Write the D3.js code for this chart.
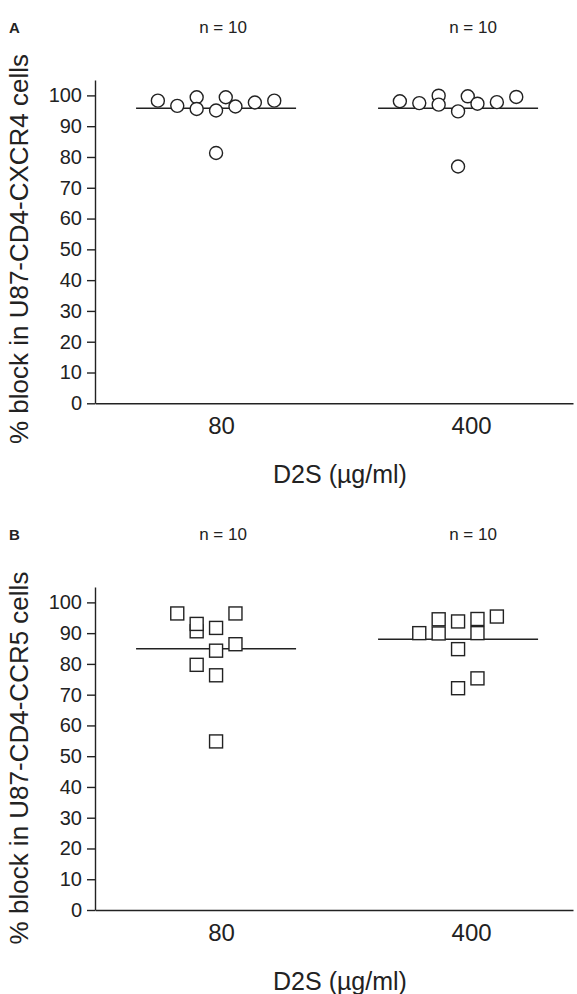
<!DOCTYPE html>
<html lang="en">
<head>
	<meta charset="utf-8">
	<title>D2S block</title>
	<script src="https://d3js.org/d3.v7.min.js" charset="utf-8"></script>
	<style>
		body {
			margin: 0;
			background: #fff;
			font-family: "Liberation Sans", Arial, sans-serif;
		}
		.axis path,
		.axis line {
			fill: none;
			stroke: #222;
			stroke-width: 1.4px;
		}
		.axis text {
			fill: #222;
		}
		.mean {
			stroke: #222;
			stroke-width: 1.5px;
		}
		.dot {
			fill: #fff;
			stroke: #222;
			stroke-width: 1.4px;
		}
	</style>
</head>
<body>
<script>

	// doses on the x axis, and y tick values
	var doses = ["80", "400"];
	var yTicks = [0, 10, 20, 30, 40, 50, 60, 70, 80, 90, 100];
	var nLabels = ["n = 10", "n = 10"];

	// panel A : % block in U87-CD4-CXCR4 cells (circles)
	var cxcr4_80 = [98.3, 96.6, 99.4, 95.6, 95.1, 99.4, 96.4, 97.7, 98.3, 81.3];
	var cxcr4_400 = [98.1, 97.5, 99.9, 97.0, 94.8, 99.7, 97.3, 97.8, 99.5, 76.9];
	// jitter column of each point (same order as values)
	var cxcr4_80_col = [-3, -2, -1, -1, 0, 0.5, 1, 2, 3, 0];
	var cxcr4_400_col = [-3, -2, -1, -1, 0, 0.5, 1, 2, 3, 0];

	// panel B : % block in U87-CD4-CCR5 cells (squares)
	var ccr5_80 = [96.4, 90.6, 93.0, 91.7, 96.4, 84.3, 86.4, 79.7, 76.3, 54.8];
	var ccr5_400 = [90.0, 94.5, 89.9, 93.8, 84.8, 94.6, 90.0, 95.4, 72.1, 75.3];
	var ccr5_80_col = [-2, -1, -1, 0, 1, 0, 1, -1, 0, 0];
	var ccr5_400_col = [-2, -1, -1, 0, 0, 1, 1, 2, 0, 1];

	var width = 577;
	var height = 994;

	var svg = d3.select("body")
		.append("svg")
		.attr("width", width)
		.attr("height", height);

	// shared x scale (both panels use the same columns)
	var x = d3.scalePoint()
		.domain(doses)
		.range([95, 573])
		.padding(0.4876)
		.align(0.513);

	// one jitter column = ~19.4px
	var jitter = d3.scaleLinear().domain([0, 1]).range([0, 19.4]);

	// the labels sit a bit right of the data columns in the original figure
	var labelShift = {"80": 5, "400": 13};

	var panels = [
		{ letter: "A", top: 80, zero: 403.3, shape: "circle",
		  title: "% block in U87-CD4-CXCR4 cells", titleY: 249,
		  groups: [[cxcr4_80, cxcr4_80_col], [cxcr4_400, cxcr4_400_col]] },
		{ letter: "B", top: 587, zero: 910, shape: "square",
		  title: "% block in U87-CD4-CCR5 cells", titleY: 758,
		  groups: [[ccr5_80, ccr5_80_col], [ccr5_400, ccr5_400_col]] }
	];

	panels.forEach(function(p) {

		var g = svg.append("g");

		var y = d3.scaleLinear()
			.domain([0, 105])
			.range([p.zero, p.top]);

		// y axis
		g.append("g")
			.attr("class", "axis")
			.attr("transform", "translate(95,0)")
			.call(d3.axisLeft(y).tickValues(yTicks).tickSize(8).tickSizeOuter(0).tickPadding(5))
			.selectAll("text")
			.style("font-size", "20px")
			.style("font-family", "Liberation Sans, Arial, sans-serif");

		// x axis : just the base line and the dose labels
		var xa = g.append("g")
			.attr("class", "axis")
			.attr("transform", "translate(0," + p.zero + ")")
			.call(d3.axisBottom(x).tickSize(0).tickSizeOuter(0).tickPadding(14));
		xa.selectAll("text")
			.attr("dx", function(d) { return labelShift[d]; })
			.style("font-size", "24px")
			.style("font-family", "Liberation Sans, Arial, sans-serif");

		// x title
		g.append("text")
			.attr("x", 340)
			.attr("y", p.zero + 80)
			.attr("text-anchor", "middle")
			.style("font-size", "25px")
			.style("fill", "#222")
			.text("D2S (\u00b5g/ml)");

		// y title
		g.append("text")
			.attr("transform", "translate(28," + p.titleY + ") rotate(-90)")
			.attr("text-anchor", "middle")
			.style("font-size", "26px")
			.style("fill", "#222")
			.text(p.title);

		// panel letter
		g.append("text")
			.attr("x", 9)
			.attr("y", p.top - 47)
			.style("font-size", "15px")
			.style("font-weight", "bold")
			.style("fill", "#222")
			.text(p.letter);

		// n = 10 above each column
		g.selectAll(".nlab")
			.data(doses)
			.enter()
			.append("text")
			.attr("class", "nlab")
			.attr("x", function(d) { return x(d) + labelShift[d] + 2; })
			.attr("y", p.top - 47)
			.attr("text-anchor", "middle")
			.style("font-size", "17px")
			.style("fill", "#222")
			.text(function(d, i) { return nLabels[i]; });

		p.groups.forEach(function(grp, gi) {
			var vals = grp[0], cols = grp[1];
			var cx = x(doses[gi]);
			var m = d3.mean(vals);

			// mean line
			g.append("line")
				.attr("class", "mean")
				.attr("x1", cx - 80)
				.attr("x2", cx + 80)
				.attr("y1", y(m))
				.attr("y2", y(m));

			var pts = vals.map(function(v, i) { return {v: v, c: cols[i]}; });

			if (p.shape == "circle") {
				g.selectAll(".c" + gi)
					.data(pts)
					.enter()
					.append("circle")
					.attr("class", "dot")
					.attr("cx", function(d) { return cx + jitter(d.c); })
					.attr("cy", function(d) { return y(d.v); })
					.attr("r", 6.5);
			} else {
				g.selectAll(".s" + gi)
					.data(pts)
					.enter()
					.append("rect")
					.attr("class", "dot")
					.attr("x", function(d) { return cx + jitter(d.c) - 6.5; })
					.attr("y", function(d) { return y(d.v) - 6.5; })
					.attr("width", 13)
					.attr("height", 13);
			}
		});
	});

</script>
</body>
</html>
